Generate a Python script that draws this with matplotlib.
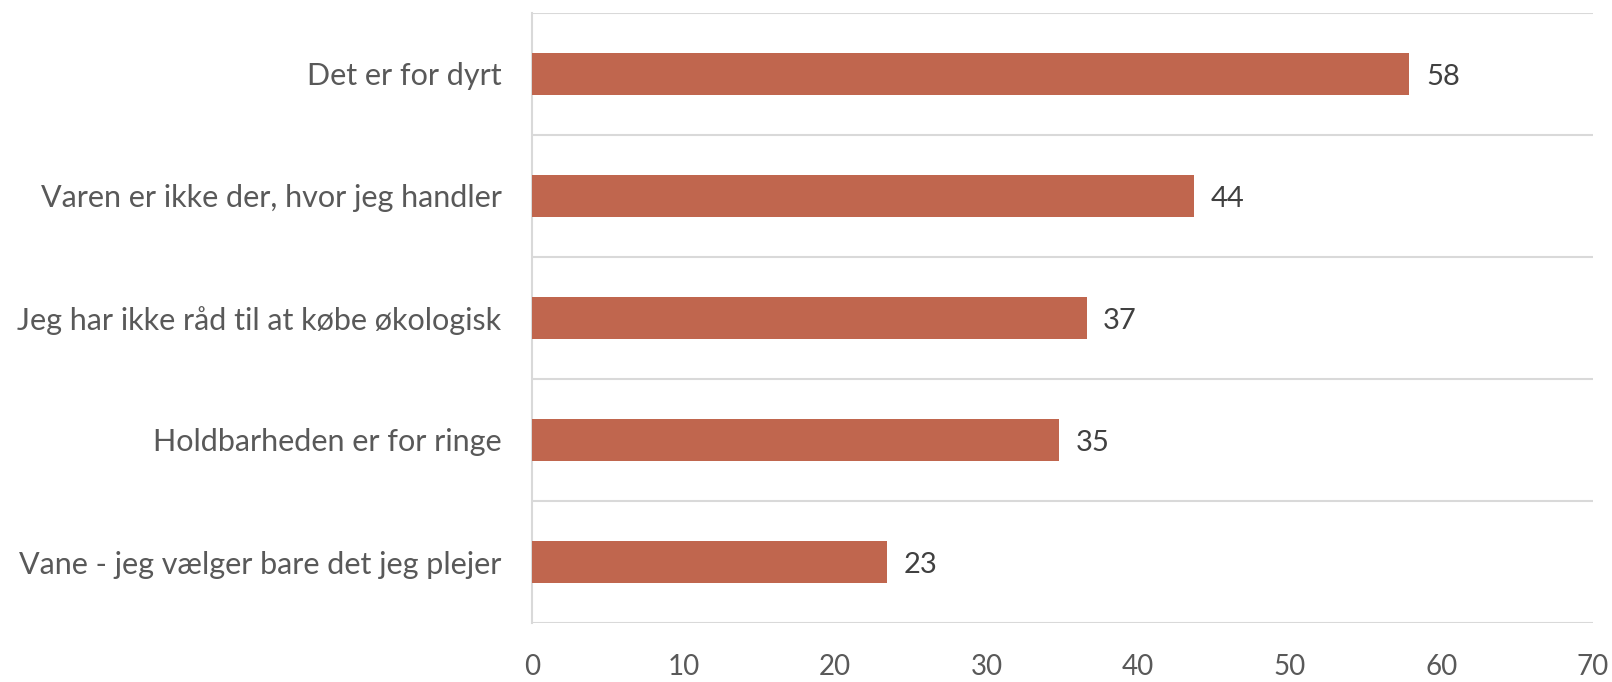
import matplotlib.pyplot as plt
import matplotlib.transforms as mtransforms
import numpy as np

# kategorier og værdier
categories = [
    "Det er for dyrt",
    "Varen er ikke der, hvor jeg handler",
    "Jeg har ikke råd til at købe økologisk",
    "Holdbarheden er for ringe",
    "Vane - jeg vælger bare det jeg plejer",
]
values = [57.9, 43.7, 36.6, 34.8, 23.4]
xticks = [0, 10, 20, 30, 40, 50, 60, 70]


def main():
    plt.rcParams['font.family'] = ['Lato', 'DejaVu Sans']
    fig = plt.figure(figsize=(16.12, 6.82), dpi=100)
    ax = fig.add_axes([0.330, 0.0865, 0.658, 0.8945])

    y = np.arange(len(categories))
    ax.barh(y, values, height=0.35, color='#C0664E', zorder=3)

    # lille forskydning nedad for teksten
    shift = mtransforms.ScaledTranslation(0, -2 / 72, fig.dpi_scale_trans)

    for yi, v in zip(y, values):
        ax.text(v + 1.1, yi, f"{v:.0f}", va='center', ha='left',
                fontsize=21, color='#404040', transform=ax.transData + shift)

    ax.set_ylim(len(categories) - 0.5, -0.5)
    ax.set_xlim(0, 70)
    ax.set_yticks(y)
    ax.set_yticklabels(categories, fontsize=22, color='#595959')
    for lbl in ax.get_yticklabels():
        lbl.set_transform(lbl.get_transform() + shift)
    ax.set_xticks(xticks)
    ax.set_xticklabels([str(t) for t in xticks], fontsize=20, color='#595959')
    ax.tick_params(axis='both', length=0)
    ax.tick_params(axis='y', pad=22)
    ax.tick_params(axis='x', pad=22)

    # linjer mellem kategorierne
    ax.set_yticks(np.arange(-0.5, len(categories), 1), minor=True)
    ax.tick_params(axis='y', which='minor', length=0)
    ax.grid(axis='y', which='minor', color='#D9D9D9', linewidth=1.5, zorder=0)

    for s in ['top', 'right', 'bottom']:
        ax.spines[s].set_visible(False)
    ax.spines['left'].set_color('#D9D9D9')
    ax.spines['left'].set_linewidth(1.5)

    fig.savefig('out.png', dpi=100)


if __name__ == '__main__':
    main()
